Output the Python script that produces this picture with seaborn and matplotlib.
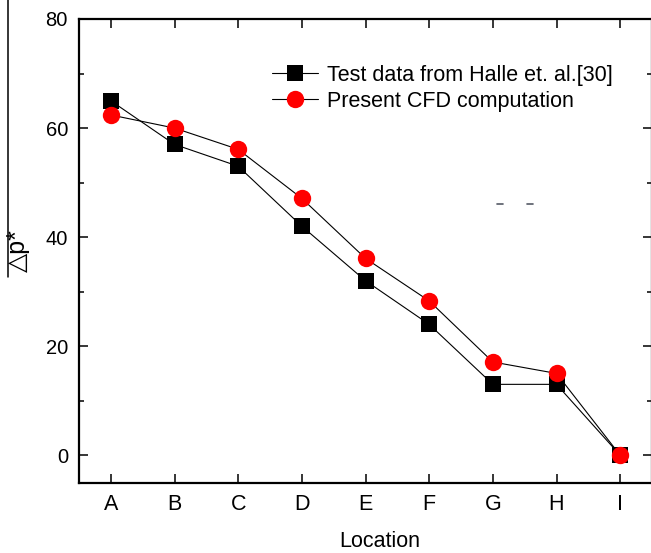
import matplotlib
matplotlib.use("Agg")
import matplotlib.pyplot as plt
from matplotlib.lines import Line2D
from matplotlib.ticker import MultipleLocator
import seaborn as sns
import pandas as pd

# Pressure-drop coefficient along the measurement stations
locations = ["A", "B", "C", "D", "E", "F", "G", "H", "I"]
test_values = [65, 57, 53, 42, 32, 24, 13, 13, 0]
cfd_values = [62.4, 60, 56.1, 47.1, 36.1, 28.3, 17.1, 15.0, 0]
series_names = ["Test data from Halle et. al.[30]", "Present CFD computation"]

sns.set_theme(style="ticks")
plt.rcParams["font.family"] = ["Liberation Sans", "DejaVu Sans"]
plt.rcParams["text.color"] = "black"
plt.rcParams["axes.labelcolor"] = "black"
plt.rcParams["xtick.labelcolor"] = "black"
plt.rcParams["ytick.labelcolor"] = "black"

W, H = 651, 553
fig = plt.figure(figsize=(W / 100, H / 100), dpi=100)
left, right, top, bottom = 79, 652, 19, 482.5
ax = fig.add_axes([left / W, 1 - bottom / H, (right - left) / W, (bottom - top) / H])

df_test = pd.DataFrame({"Location": locations, "dp": test_values})
df_cfd = pd.DataFrame({"Location": locations, "dp": cfd_values})

sns.lineplot(data=df_test, x="Location", y="dp", ax=ax, color="black",
             linewidth=0.8, marker="s", markersize=11, markerfacecolor="black",
             markeredgecolor="black", markeredgewidth=0, label=series_names[0],
             zorder=3)
sns.lineplot(data=df_cfd, x="Location", y="dp", ax=ax, color="black",
             linewidth=0.8, marker="o", markersize=12.5, markerfacecolor="#ff0000",
             markeredgecolor="#ff0000", markeredgewidth=0, label=series_names[1],
             zorder=4)

ax.set_xlim(-0.5, 8.5)
ax.set_ylim(-5, 80)
ax.yaxis.set_major_locator(MultipleLocator(20))
ax.yaxis.set_minor_locator(MultipleLocator(10))

for side in ["left", "right", "top", "bottom"]:
    ax.spines[side].set_linewidth(1.6)
    ax.spines[side].set_color("black")

ax.tick_params(axis="both", which="major", direction="in", length=6.5, width=1.1,
               top=True, right=True, color="black")
ax.tick_params(axis="y", which="minor", direction="in", length=3.5, width=1.1,
               left=True, right=True, color="black")
ax.tick_params(axis="y", which="major", labelsize=14.5, pad=8)
ax.tick_params(axis="x", which="major", labelsize=15.5, pad=8)

ax.set_xlabel("Location", fontsize=15.5)
ax.xaxis.set_label_coords(0.525, -0.105)
ax.set_ylabel("\u25b3p*", fontsize=18)
ax.yaxis.set_label_coords(-0.086, 0.5)

ax.legend(loc="center left", bbox_to_anchor=(272 / W, 1 - 88.3 / H),
          bbox_transform=fig.transFigure, frameon=False, fontsize=15.5,
          borderpad=0, borderaxespad=0, handlelength=2.15, handletextpad=0.42,
          labelspacing=0.24, markerscale=1.0)

# thin rule on the left edge and two small dashes in the plot area
fig.add_artist(Line2D([8 / W, 8 / W], [1, 1 - 277 / H], color="black", lw=1.1))
for x0 in (497, 527):
    fig.add_artist(Line2D([x0 / W, (x0 + 6) / W], [1 - 203.5 / H] * 2,
                          color="#555a66", lw=1.2))

fig.savefig("out.png", dpi=100)
